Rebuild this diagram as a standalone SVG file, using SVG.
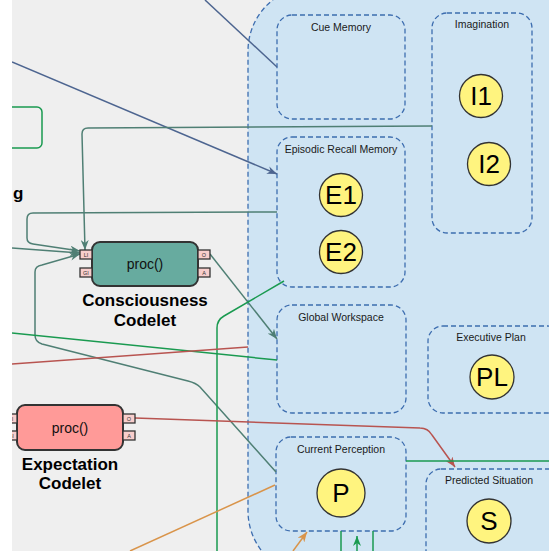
<svg xmlns="http://www.w3.org/2000/svg" width="549" height="551" viewBox="0 0 549 551">
<style>
.bg{fill:#efefef}
.cont{fill:#cfe4f3;stroke:#3d6daf;stroke-width:1.3;stroke-dasharray:5 3}
.lbl{font-family:"Liberation Sans",Arial,sans-serif;font-size:10.5px;fill:#1a1a1a;text-anchor:middle}
.circ{fill:#fff47f;stroke:#333;stroke-width:1.3}
.ctext{font-family:"Liberation Sans",Arial,sans-serif;font-size:26px;fill:#000;text-anchor:middle}
.body{stroke:#333;stroke-width:2}
.port{fill:#f8cecc;stroke:#333;stroke-width:1.3}
.ptxt{font-family:"Liberation Sans",Arial,sans-serif;font-size:5.5px;fill:#333;text-anchor:middle}
.proc{font-family:"Liberation Sans",Arial,sans-serif;font-size:14px;fill:#111;text-anchor:middle}
.title{font-family:"Liberation Sans",Arial,sans-serif;font-size:17px;font-weight:bold;fill:#000;text-anchor:middle}
.ln{fill:none;stroke-width:1.5}
.slate{stroke:#4d6590}
.teal{stroke:#4f7f74}
.green{stroke:#1a9a50}
.red{stroke:#b85450}
.orange{stroke:#d9944a}
</style>
<defs>
<clipPath id="clip"><rect x="12" y="0" width="537" height="551"/></clipPath>
<marker id="aSlate" markerWidth="10" markerHeight="8" refX="10" refY="4" orient="auto" markerUnits="userSpaceOnUse"><path d="M0,0 L10,4 L0,8 L3,4 z" fill="#4d6590"/></marker>
<marker id="aTeal" markerWidth="10" markerHeight="8" refX="10" refY="4" orient="auto" markerUnits="userSpaceOnUse"><path d="M0,0 L10,4 L0,8 L3,4 z" fill="#4f7f74"/></marker>
<marker id="aRed" markerWidth="10" markerHeight="8" refX="10" refY="4" orient="auto" markerUnits="userSpaceOnUse"><path d="M0,0 L10,4 L0,8 L3,4 z" fill="#b85450"/></marker>
<marker id="aOrange" markerWidth="10" markerHeight="8" refX="10" refY="4" orient="auto" markerUnits="userSpaceOnUse"><path d="M0,0 L10,4 L0,8 L3,4 z" fill="#d9944a"/></marker>
<marker id="aGreen" markerWidth="10" markerHeight="8" refX="10" refY="4" orient="auto" markerUnits="userSpaceOnUse"><path d="M0,0 L10,4 L0,8 L3,4 z" fill="#1a9a50"/></marker>
</defs>
<rect x="0" y="0" width="549" height="551" fill="#ffffff"/>
<g clip-path="url(#clip)">
<rect class="bg" x="12" y="0" width="537" height="551"/>

<g id="mind">
<rect class="cont" x="248" y="-14" width="420" height="590" rx="65"/>
</g>

<g id="left-box">
<rect x="-20" y="107" width="62" height="41" rx="5" fill="none" stroke="#1a9a50" stroke-width="1.5"/>
</g>
<g id="left-label">
<text class="title" x="13" y="199" style="text-anchor:start">g</text>
</g>

<g id="cue-memory">
<rect class="cont" x="277" y="15" width="128" height="104" rx="15"/>
<text class="lbl" x="341" y="31">Cue Memory</text>
</g>

<g id="imagination">
<rect class="cont" x="432" y="13" width="100" height="220" rx="15"/>
<text class="lbl" x="482" y="28">Imagination</text>
</g>
<g id="I1"><circle class="circ" cx="481" cy="96" r="21.5"/><text class="ctext" x="481" y="105">I1</text></g>
<g id="I2"><circle class="circ" cx="489" cy="164" r="21.5"/><text class="ctext" x="489" y="173">I2</text></g>

<g id="episodic-recall-memory">
<rect class="cont" x="277" y="137" width="128" height="150" rx="15"/>
<text class="lbl" x="341" y="153">Episodic Recall Memory</text>
</g>
<g id="E1"><circle class="circ" cx="341" cy="195" r="21.5"/><text class="ctext" x="341" y="204">E1</text></g>
<g id="E2"><circle class="circ" cx="341" cy="252" r="21.5"/><text class="ctext" x="341" y="261">E2</text></g>

<g id="global-workspace">
<rect class="cont" x="277" y="305" width="129" height="108" rx="15"/>
<text class="lbl" x="341" y="321">Global Workspace</text>
</g>

<g id="executive-plan">
<rect class="cont" x="428" y="326" width="135" height="87" rx="15"/>
<text class="lbl" x="491" y="341">Executive Plan</text>
</g>
<g id="PL"><circle class="circ" cx="492" cy="377" r="22"/><text class="ctext" x="492" y="386">PL</text></g>

<g id="current-perception">
<rect class="cont" x="276" y="437" width="130" height="94" rx="15"/>
<text class="lbl" x="341" y="453">Current Perception</text>
</g>
<g id="P"><circle class="circ" cx="341" cy="493" r="24"/><text class="ctext" x="341" y="502">P</text></g>

<g id="predicted-situation">
<rect class="cont" x="426" y="469" width="140" height="100" rx="15"/>
<text class="lbl" x="489" y="484">Predicted Situation</text>
</g>
<g id="S"><circle class="circ" cx="489" cy="521" r="22"/><text class="ctext" x="489" y="530">S</text></g>

<g id="connectors">
<path class="ln slate" d="M205,0 L277,67"/>
<path class="ln slate" d="M12,62 L277,174" marker-end="url(#aSlate)"/>
<path class="ln teal" d="M432,126 L88,128 Q82,128 82,134 L85,250" marker-end="url(#aTeal)"/>
<path class="ln teal" d="M277,212 L33,213 Q27,213 27,219 L27,238 Q27,243 33,244 L80,251" marker-end="url(#aTeal)"/>
<path class="ln teal" d="M12,248 L80,253" marker-end="url(#aTeal)"/>
<path class="ln teal" d="M276,472 L200,387 Q196,383 188,381 L42,344 Q35,342 35,335 L35,272 Q35,266 42,265 L80,254" marker-end="url(#aTeal)"/>
<path class="ln teal" d="M210,254 L277,339" marker-end="url(#aTeal)"/>
<path class="ln green" d="M284,281 L224,316 Q217,320 217,328 L217,551"/>
<path class="ln green" d="M12,333 L277,360"/>
<path class="ln red" d="M12,364 L248,347"/>
<path class="ln red" d="M135,418 L420,428 Q428,428 432,435 L455,467" marker-end="url(#aRed)"/>
<path class="ln green" d="M406,461 L549,461"/>
<path class="ln orange" d="M130,551 L275,485"/>
<path class="ln orange" d="M293,551 L307,532" marker-end="url(#aOrange)"/>
<path class="ln green" d="M341,531 L341,551"/>
<path class="ln green" d="M373,531 L373,551"/>
<path class="ln green" d="M357,551 L357,536" marker-end="url(#aGreen)"/>
</g>

<g id="consciousness-codelet">
<rect class="body" x="92" y="242" width="106" height="44" rx="8" fill="#67ab9f"/>
<text class="proc" x="145" y="269">proc()</text>
<rect class="port" x="80" y="250" width="12" height="9"/><text class="ptxt" x="86" y="256.5">LI</text>
<rect class="port" x="80" y="268" width="12" height="9"/><text class="ptxt" x="86" y="274.5">GI</text>
<rect class="port" x="198" y="250" width="12" height="9"/><text class="ptxt" x="204" y="256.5">O</text>
<rect class="port" x="198" y="268" width="12" height="9"/><text class="ptxt" x="204" y="274.5">A</text>
<text class="title" x="145" y="306">Consciousness</text>
<text class="title" x="145" y="326">Codelet</text>
</g>

<g id="expectation-codelet">
<rect class="body" x="17" y="405" width="106" height="45" rx="8" fill="#ff9a98"/>
<text class="proc" x="70" y="433">proc()</text>
<rect class="port" x="5" y="414" width="12" height="9"/><text class="ptxt" x="11" y="420.5">LI</text>
<rect class="port" x="5" y="431" width="12" height="9"/><text class="ptxt" x="11" y="437.5">GI</text>
<rect class="port" x="123" y="414" width="12" height="9"/><text class="ptxt" x="129" y="420.5">O</text>
<rect class="port" x="123" y="431" width="12" height="9"/><text class="ptxt" x="129" y="437.5">A</text>
<text class="title" x="70" y="470">Expectation</text>
<text class="title" x="70" y="489">Codelet</text>
</g>
</g>
</svg>
